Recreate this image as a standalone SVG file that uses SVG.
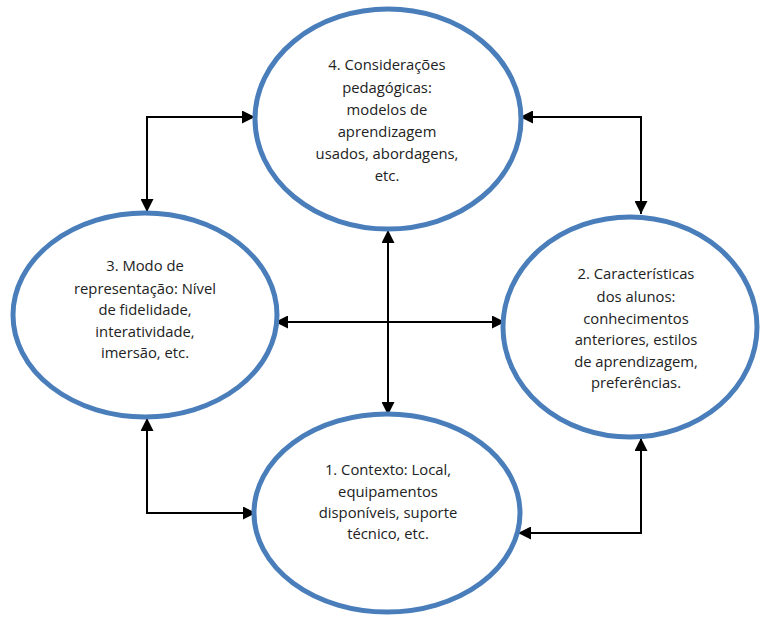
<svg xmlns="http://www.w3.org/2000/svg" width="761" height="621" viewBox="0 0 761 621">
<style>
.node ellipse{fill:#fff;stroke:#4a7ebb;stroke-width:5}
.node text{font-family:"Open Sans","Liberation Sans",sans-serif;font-size:14.8px;fill:#222;text-anchor:middle}
.conn path{fill:none;stroke:#000;stroke-width:2;marker-start:url(#ah);marker-end:url(#ah)}
</style>
<defs>
<marker id="ah" viewBox="0 0 10 10" refX="10" refY="5" markerUnits="userSpaceOnUse" markerWidth="14" markerHeight="13" orient="auto-start-reverse">
<path d="M0,0 L10,5 L0,10 Z" fill="#000"/>
</marker>
</defs>
<rect width="761" height="621" fill="#fff"/>
<g id="connectors" class="conn">
<path d="M255,117 L147,117 L147,212"/>
<path d="M520,117 L641,117 L641,214"/>
<path d="M147,418 L147,513 L256,513"/>
<path d="M641,438 L641,533 L518,533"/>
<path d="M275,322 L505,322"/>
<path d="M388,230 L388,415"/>
</g>
<g id="n4" class="node">
<ellipse cx="388" cy="119" rx="133" ry="110"/>
<text x="387" y="70">4. Considerações</text>
<text x="387" y="93">pedagógicas:</text>
<text x="387" y="115">modelos de</text>
<text x="387" y="137">aprendizagem</text>
<text x="387" y="159">usados, abordagens,</text>
<text x="387" y="181">etc.</text>
</g>
<g id="n3" class="node">
<ellipse cx="145" cy="315" rx="132" ry="102"/>
<text x="145" y="271">3. Modo de</text>
<text x="145" y="294">representação: Nível</text>
<text x="145" y="315">de fidelidade,</text>
<text x="145" y="337">interatividade,</text>
<text x="145" y="358">imersão, etc.</text>
</g>
<g id="n2" class="node">
<ellipse cx="630" cy="327" rx="127" ry="110"/>
<text x="636" y="279">2. Características</text>
<text x="636" y="302">dos alunos:</text>
<text x="636" y="324">conhecimentos</text>
<text x="636" y="345">anteriores, estilos</text>
<text x="636" y="367">de aprendizagem,</text>
<text x="636" y="388">preferências.</text>
</g>
<g id="n1" class="node">
<ellipse cx="387" cy="513" rx="133" ry="99"/>
<text x="388" y="475">1. Contexto: Local,</text>
<text x="388" y="497">equipamentos</text>
<text x="388" y="518">disponíveis, suporte</text>
<text x="388" y="539">técnico, etc.</text>
</g>
</svg>
